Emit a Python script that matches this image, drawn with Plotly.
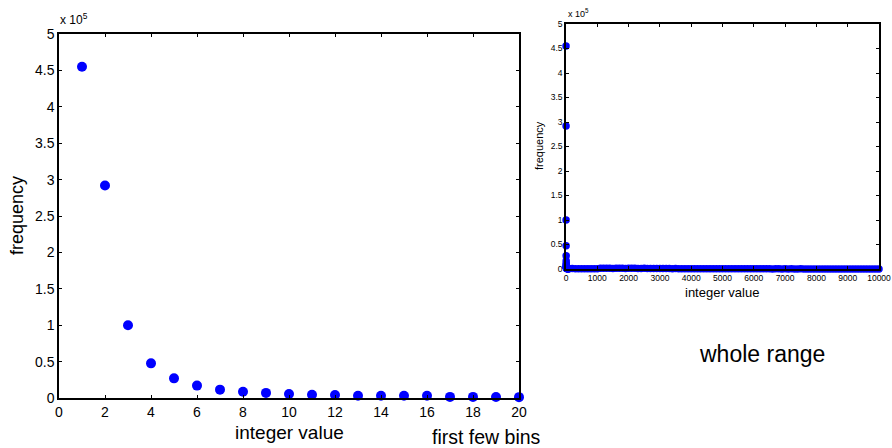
import plotly.graph_objects as go

# first few bins: integer value -> frequency
bins = list(range(1, 21))
freq = [455000, 292000, 100000, 47600, 27000, 17000, 11500, 8500, 7000, 5500,
        4500, 4200, 3000, 3000, 3200, 3000, 1500, 1500, 1300, 1200]

tail_x = [25, 30, 40, 50, 60, 70, 80, 90] + list(range(100, 10001, 100))
tail_y = [900, 800, 650, 550, 450, 400, 350, 300,
          900, 800, 700, 650, 600, 550, 500, 500, 450, 450,
          1500, 1400, 1300, 1500, 1200, 1400, 1600, 1300, 1200, 1400,
          1500, 1300, 1200, 1100, 1300, 1200, 1000, 900, 1000, 900,
          800, 900, 800, 700, 800, 700, 600, 700, 600, 600,
          700, 600, 500, 600, 500, 500, 600, 500, 400, 500,
          500, 400, 400, 500, 400, 400, 300, 400, 300, 300,
          400, 300, 300, 400, 300, 200, 300, 300, 200, 300,
          200, 300, 200, 200, 300, 200, 200, 200, 200, 100,
          200, 200, 100, 200, 100, 100, 200, 100, 100, 100,
          100, 200, 100, 100, 100, 200, 100, 100, 100, 100]

xl_ticks = list(range(0, 21, 2))
y_ticks = [0, 50000, 100000, 150000, 200000, 250000, 300000, 350000, 400000, 450000, 500000]
y_ticktext = ["0", "0.5", "1", "1.5", "2", "2.5", "3", "3.5", "4", "4.5", "5"]
xr_ticks = list(range(0, 10001, 1000))
xr_ticktext = ["0", "1000", "2000", "3000", "4000", "5000", "6000", "7000", "8000", "9000", "10000"]

W, H = 892, 448
FONT = "Liberation Sans, Arial, sans-serif"
BLUE = "#0000FF"

fig = go.Figure()
fig.add_trace(go.Scatter(x=bins, y=freq, mode="markers",
                         marker=dict(color=BLUE, size=10), xaxis="x", yaxis="y",
                         cliponaxis=False, showlegend=False))
fig.add_trace(go.Scatter(x=bins + tail_x, y=freq + tail_y, mode="markers",
                         marker=dict(color=BLUE, size=7.5), xaxis="x2", yaxis="y2",
                         cliponaxis=False, showlegend=False))

def px(x):
    return x / W

def py(y):
    return 1 - y / H

axis_common = dict(showline=True, linecolor="black", mirror="ticks", ticks="inside",
                   tickcolor="black", showgrid=False, zeroline=False, automargin=False)

fig.update_layout(
    width=W, height=H, margin=dict(l=0, r=0, t=0, b=0),
    paper_bgcolor="white", plot_bgcolor="white",
    font=dict(family=FONT, color="black"),
    xaxis=dict(domain=[px(59), px(519)], range=[0, 20], tickvals=xl_ticks,
               linewidth=1.5, ticklen=3, tickfont=dict(size=14), anchor="y",
               **axis_common),
    yaxis=dict(domain=[py(398), py(34)], range=[0, 500000], tickvals=y_ticks,
               ticktext=y_ticktext, linewidth=1.5, ticklen=3,
               tickfont=dict(size=14), anchor="x", **axis_common),
    xaxis2=dict(domain=[px(566), px(879)], range=[0, 10000], tickvals=xr_ticks,
                ticktext=xr_ticktext, linewidth=1.5, ticklen=3,
                tickfont=dict(size=8.5), anchor="y2", **axis_common),
    yaxis2=dict(domain=[py(269), py(24)], range=[0, 500000], tickvals=y_ticks,
                ticktext=y_ticktext, linewidth=1.5, ticklen=3,
                tickfont=dict(size=8.5), anchor="x2", **axis_common),
)

ann = [
    dict(text="x 10<sup>5</sup>", x=58, y=29, xanchor="left", yanchor="bottom", size=12),
    dict(text="frequency", x=17, y=216, xanchor="center", yanchor="middle", size=18, angle=-90),
    dict(text="integer value", x=289, y=432, xanchor="center", yanchor="middle", size=19),
    dict(text="first few bins", x=486, y=437, xanchor="center", yanchor="middle", size=19.5),
    dict(text="x 10<sup>5</sup>", x=566, y=21, xanchor="left", yanchor="bottom", size=9),
    dict(text="frequency", x=539, y=146, xanchor="center", yanchor="middle", size=11, angle=-90),
    dict(text="integer value", x=722, y=292, xanchor="center", yanchor="middle", size=13),
    dict(text="whole range", x=762, y=354, xanchor="center", yanchor="middle", size=23),
]
for a in ann:
    fig.add_annotation(text=a["text"], x=px(a["x"]), y=py(a["y"]), xref="paper", yref="paper",
                       xanchor=a["xanchor"], yanchor=a["yanchor"], showarrow=False,
                       textangle=a.get("angle", 0), font=dict(size=a["size"], family=FONT, color="black"))

fig.write_html("out.html", config={"displayModeBar": False},
               post_script="document.body.style.margin='0';document.body.style.padding='0';")
